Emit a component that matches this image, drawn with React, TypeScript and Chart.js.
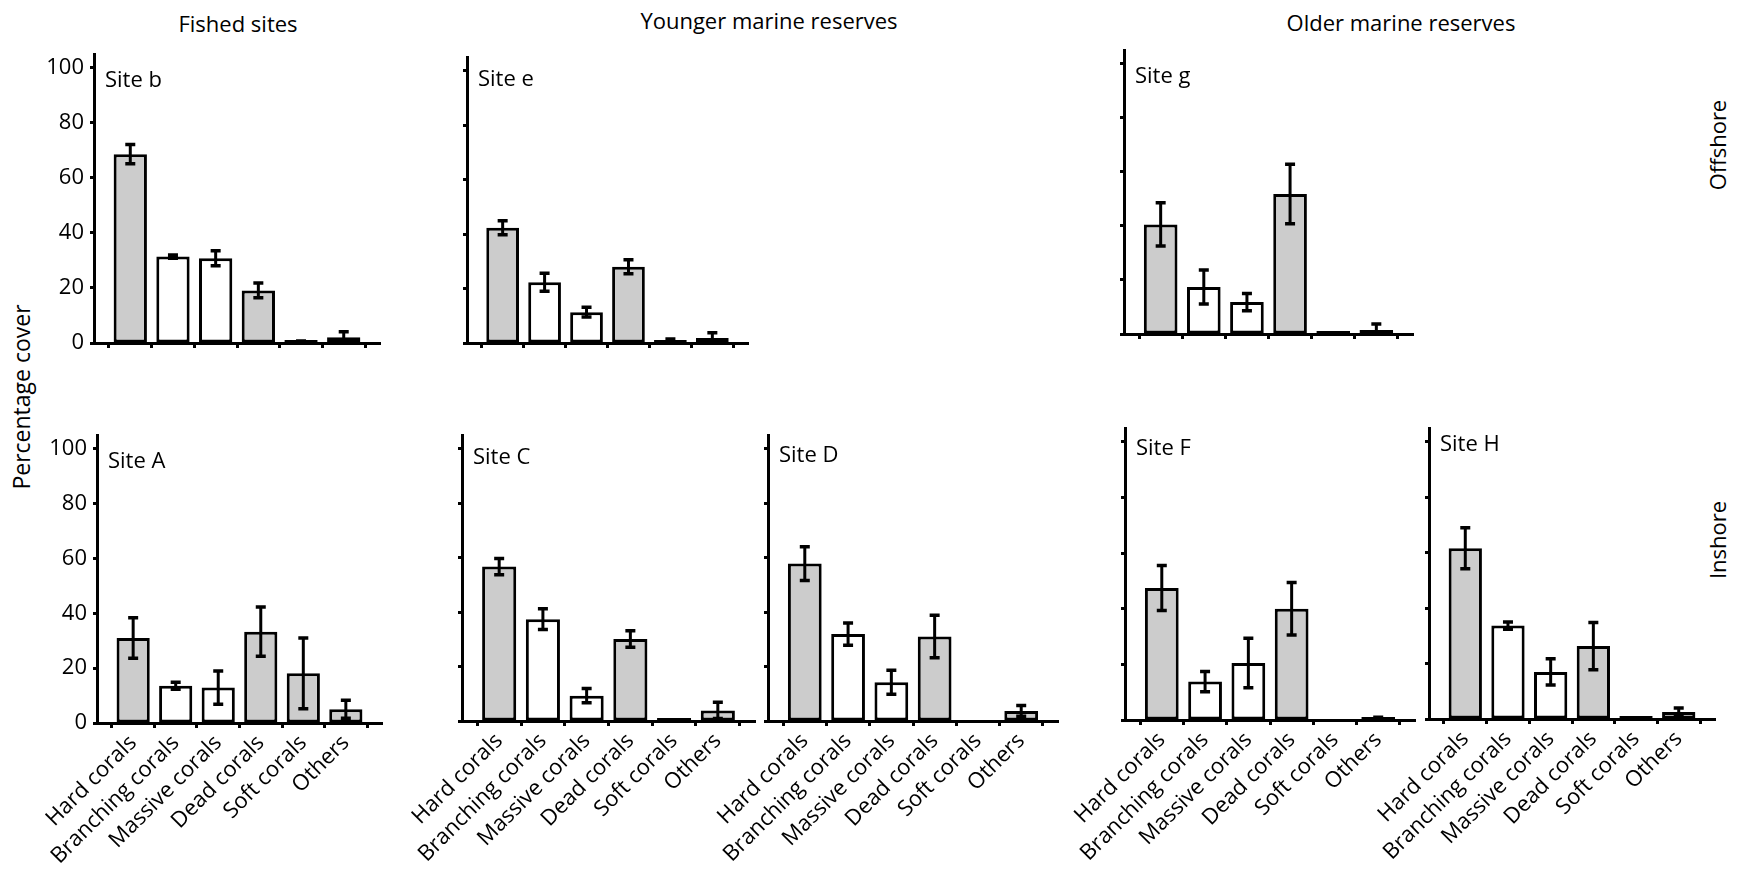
import React, { useEffect, useRef } from 'react';
import { Chart, registerables } from 'chart.js';

Chart.register(...registerables);

// ---------- data ----------
const categories = ['Hard corals', 'Branching corals', 'Massive corals', 'Dead corals', 'Soft corals', 'Others'];
const categoryFills = ['#cccccc', '#ffffff', '#ffffff', '#cccccc', '#cccccc', '#cccccc'];
const yTickStep = 20;
const yMax = 105;

const siteB = [68.6, 31.4, 30.8, 19.1, 0.4, 2.1];
const siteBErr = [3.5, 0.6, 2.7, 2.7, 0.3, 2.0];
const siteE = [42.3, 22.3, 11.3, 28.0, 1.0, 1.8];
const siteEErr = [2.6, 3.3, 1.8, 2.6, 0.5, 2.0];
const siteG = [40.5, 17.4, 11.8, 51.8, 0.2, 1.5];
const siteGErr = [8.0, 6.3, 3.2, 11.0, 0, 2.2];
const siteA = [31.0, 13.6, 12.9, 33.3, 18.1, 5.0];
const siteAErr = [7.4, 1.3, 6.1, 9.0, 12.9, 3.3];
const siteC = [56.7, 37.4, 9.3, 30.1, 0.2, 3.9];
const siteCErr = [3.0, 3.8, 2.6, 3.0, 0, 3.0];
const siteD = [57.8, 31.9, 14.2, 31.0, 0, 3.7];
const siteDErr = [6.2, 4.1, 4.4, 7.8, 0, 2.0];
const siteF = [47.5, 13.8, 20.5, 40.0, 0, 0.6];
const siteFErr = [8.1, 3.6, 8.9, 9.4, 0, 0.4];
const siteH = [61.6, 33.7, 17.0, 26.3, 0.3, 2.5];
const siteHErr = [7.4, 1.3, 4.7, 8.5, 0, 1.5];

// ---------- layout ----------
const FONT = '"Open Sans", "DejaVu Sans", sans-serif';
const WY = 90;
const RP = 20;
const TP = 25;
const XMIN = -0.85;
const XMAX = 5.85;

type PanelCfg = {
  name: string;
  values: number[];
  errors: number[];
  axisX: number;
  yTop: number;
  y0: number;
  xEnd: number;
  showY: boolean;
  showX: boolean;
  labelDy: number;
};

const panels: PanelCfg[] = [
  { name: 'Site b', values: siteB, errors: siteBErr, axisX: 94, yTop: 54, y0: 343, xEnd: 380, showY: true, showX: false, labelDy: 33 },
  { name: 'Site e', values: siteE, errors: siteEErr, axisX: 467, yTop: 57, y0: 343, xEnd: 748, showY: false, showX: false, labelDy: 29 },
  { name: 'Site g', values: siteG, errors: siteGErr, axisX: 1124, yTop: 50, y0: 334, xEnd: 1413, showY: false, showX: false, labelDy: 33 },
  { name: 'Site A', values: siteA, errors: siteAErr, axisX: 97, yTop: 435, y0: 723, xEnd: 382, showY: true, showX: true, labelDy: 33 },
  { name: 'Site C', values: siteC, errors: siteCErr, axisX: 462, yTop: 435, y0: 721, xEnd: 755, showY: false, showX: true, labelDy: 29 },
  { name: 'Site D', values: siteD, errors: siteDErr, axisX: 768, yTop: 435, y0: 721, xEnd: 1058, showY: false, showX: true, labelDy: 27 },
  { name: 'Site F', values: siteF, errors: siteFErr, axisX: 1125, yTop: 428, y0: 720, xEnd: 1415, showY: false, showX: true, labelDy: 27 },
  { name: 'Site H', values: siteH, errors: siteHErr, axisX: 1429, yTop: 428, y0: 719, xEnd: 1715, showY: false, showX: true, labelDy: 23 },
];

const errorBarPlugin = {
  id: 'errorBars',
  afterDatasetsDraw(chart: any, _args: any, opts: any) {
    const errs: number[] = opts.errors || [];
    const vals: number[] = opts.values || [];
    const meta = chart.getDatasetMeta(0);
    const ys = chart.scales.y;
    const ctx = chart.ctx;
    ctx.save();
    ctx.strokeStyle = '#000';
    ctx.lineCap = 'butt';
    meta.data.forEach((el: any, i: number) => {
      const e = errs[i];
      const v = vals[i];
      if (!e || v == null) return;
      const top = ys.getPixelForValue(v + e);
      const bot = ys.getPixelForValue(Math.max(0, v - e));
      const x = el.x;
      ctx.lineWidth = 3;
      ctx.beginPath();
      ctx.moveTo(x, top);
      ctx.lineTo(x, bot);
      ctx.stroke();
      ctx.lineWidth = 3.5;
      ctx.beginPath();
      ctx.moveTo(x - 5, top);
      ctx.lineTo(x + 5, top);
      ctx.moveTo(x - 5, bot);
      ctx.lineTo(x + 5, bot);
      ctx.stroke();
    });
    ctx.restore();
  },
};

const siteLabelPlugin = {
  id: 'siteLabel',
  afterDraw(chart: any, _args: any, opts: any) {
    const ctx = chart.ctx;
    const a = chart.chartArea;
    ctx.save();
    ctx.fillStyle = '#000';
    ctx.font = `22px ${FONT}`;
    ctx.textAlign = 'left';
    ctx.textBaseline = 'alphabetic';
    ctx.fillText(opts.text, a.left + 11, a.top + opts.dy);
    ctx.restore();
  },
};

function Panel({ cfg }: { cfg: PanelCfg }) {
  const ref = useRef<HTMLCanvasElement | null>(null);
  const hx = cfg.showX ? 150 : 25;
  const left = cfg.axisX - WY;
  const top = cfg.yTop - TP;
  const width = WY + (cfg.xEnd - cfg.axisX) + RP;
  const height = TP + (cfg.y0 - cfg.yTop) + hx;

  useEffect(() => {
    if (!ref.current) return;
    const chart = new Chart(ref.current, {
      type: 'bar',
      data: {
        datasets: [
          {
            // a zero value draws no bar at all
            data: cfg.values.map((v, i) => ({ x: i, y: v === 0 ? null : v })),
            backgroundColor: categoryFills,
            borderColor: '#000',
            borderWidth: 3,
            borderSkipped: false,
            minBarLength: 3,
            barPercentage: 0.78,
            categoryPercentage: 1,
          } as any,
        ],
      },
      options: {
        responsive: false,
        animation: false,
        devicePixelRatio: 1,
        layout: { padding: { left: 0, right: RP, top: TP, bottom: 0 } },
        plugins: {
          legend: { display: false },
          tooltip: { enabled: false },
          errorBars: { errors: cfg.errors, values: cfg.values },
          siteLabel: { text: cfg.name, dy: cfg.labelDy },
        } as any,
        scales: {
          x: {
            type: 'linear',
            min: XMIN,
            max: XMAX,
            offset: false,
            afterFit: (s: any) => {
              s.height = hx;
            },
            grid: {
              display: true,
              drawOnChartArea: false,
              drawTicks: true,
              tickLength: 5,
              tickWidth: 3,
              tickColor: '#000',
            },
            border: { display: true, color: '#000', width: 3 },
            ticks: {
              display: cfg.showX,
              stepSize: 1,
              includeBounds: false,
              autoSkip: false,
              maxRotation: 45,
              minRotation: 45,
              padding: 2,
              color: '#000',
              font: { family: FONT, size: 22 },
              callback: (v: any) => categories[Number(v)] ?? '',
            },
          },
          y: {
            type: 'linear',
            min: 0,
            max: yMax,
            afterFit: (s: any) => {
              s.width = WY;
            },
            grid: {
              display: true,
              drawOnChartArea: false,
              drawTicks: true,
              tickLength: 4,
              tickWidth: 3,
              tickColor: '#000',
            },
            border: { display: true, color: '#000', width: 3 },
            ticks: {
              display: cfg.showY,
              stepSize: yTickStep,
              includeBounds: false,
              padding: 6,
              color: '#000',
              font: { family: FONT, size: 22 },
            },
          },
        } as any,
      },
      plugins: [errorBarPlugin, siteLabelPlugin],
    });
    return () => chart.destroy();
  }, []);

  return (
    <canvas
      ref={ref}
      width={width}
      height={height}
      style={{ position: 'absolute', left, top, width, height }}
    />
  );
}

const textBase: React.CSSProperties = {
  position: 'absolute',
  fontFamily: FONT,
  fontSize: 22,
  lineHeight: '22px',
  color: '#000',
  whiteSpace: 'nowrap',
};

function Label({ text, x, y, rotate = false, size = 22 }: { text: string; x: number; y: number; rotate?: boolean; size?: number }) {
  return (
    <div
      style={{
        ...textBase,
        fontSize: size,
        lineHeight: `${size}px`,
        left: x,
        top: y,
        transform: `translate(-50%, -50%)${rotate ? ' rotate(-90deg)' : ''}`,
      }}
    >
      {text}
    </div>
  );
}

export default function App() {
  return (
    <div
      style={{
        position: 'fixed',
        left: 0,
        top: 0,
        width: 1745,
        height: 873,
        background: '#fff',
        overflow: 'hidden',
      }}
    >
      <Label text="Fished sites" x={238} y={23} />
      <Label text="Younger marine reserves" x={769} y={20} />
      <Label text="Older marine reserves" x={1401} y={22} />
      <Label text="Percentage cover" x={21} y={397} rotate size={23} />
      <Label text="Offshore" x={1717} y={145} rotate />
      <Label text="Inshore" x={1717} y={540} rotate />
      {panels.map((p) => (
        <Panel key={p.name} cfg={p} />
      ))}
    </div>
  );
}
